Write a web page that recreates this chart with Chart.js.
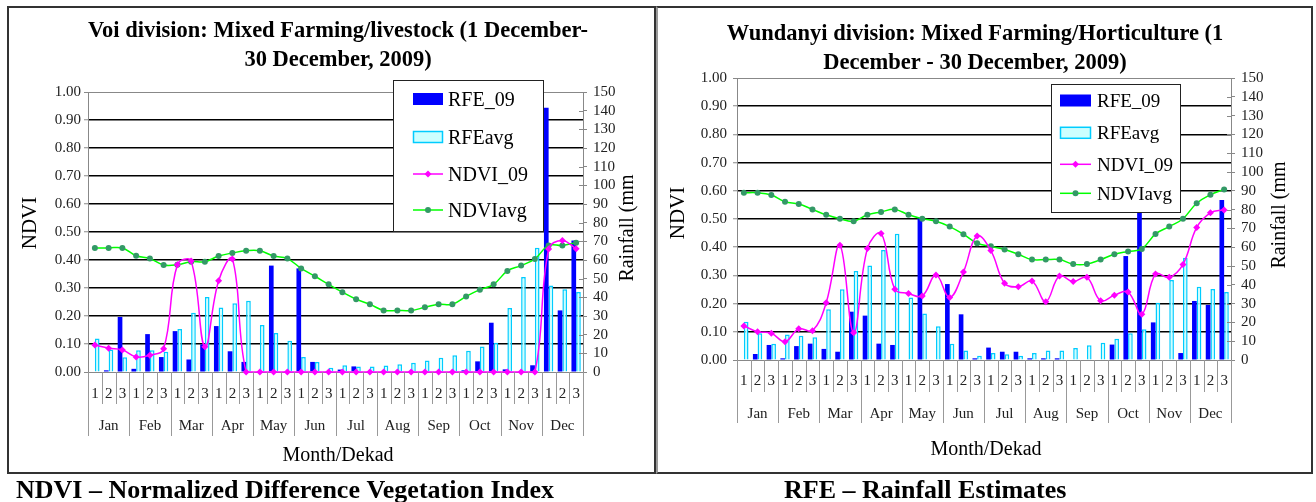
<!DOCTYPE html>
<html>
<head>
<meta charset="utf-8">
<script src="https://cdn.jsdelivr.net/npm/chart.js@4.4.1/dist/chart.umd.min.js"></script>
<style>
  html, body { margin: 0; padding: 0; background: #fff; }
  #page { position: relative; width: 1316px; height: 502px; overflow: hidden; }
  canvas { position: absolute; left: 0; top: 0; }
  .box { position: absolute; border: 2px solid #333; box-sizing: border-box; }
</style>
</head>
<body>
<div id="page">
  <div class="box" style="left:7px;top:6px;width:649px;height:468px"></div>
  <div class="box" style="left:656px;top:6px;width:657px;height:468px;border-left-color:#999"></div>
  <canvas id="voi" width="1316" height="502"></canvas>
  <canvas id="wundanyi" width="1316" height="502"></canvas>
</div>
<script>
const months = ['Jan', 'Feb', 'Mar', 'Apr', 'May', 'Jun', 'Jul', 'Aug', 'Sep', 'Oct', 'Nov', 'Dec'];
const dekads = ['1', '2', '3'];
const labels = months.flatMap(m => dekads.map(d => m + ' ' + d));

// Voi division (rainfall in mm, NDVI 0-1)
const voiRfe09 = [0, 0.9, 29.5, 1.7, 20.3, 8.0, 21.9, 6.7, 14.8, 24.6, 11.1, 5.4,
  0, 57.0, 0, 55.5, 5.4, 0, 1.3, 3.0, 0, 0, 0, 0,
  0, 0, 0, 0.9, 5.7, 26.4, 1.4, 0, 3.6, 141.5, 33.0, 70.5];
const voiRfeAvg = [17.9, 12.0, 7.9, 11.7, 11.7, 10.8, 23.1, 31.8, 40.2, 34.6, 36.8, 38.2,
  25.2, 20.9, 16.8, 8.0, 5.4, 2.3, 3.6, 3.0, 3.0, 3.5, 4.2, 5.0,
  6.2, 7.6, 9.0, 11.4, 13.6, 15.7, 34.3, 50.9, 66.6, 46.4, 44.3, 42.9];
const voiNdvi09 = [0.096, 0.085, 0.079, 0.054, 0.060, 0.083, 0.383, 0.396, 0.090, 0.326, 0.404, 0,
  0, 0, 0, 0, 0, 0, 0, 0, 0, 0, 0, 0,
  0, 0, 0, 0, 0, 0, 0, 0, 0, 0.439, 0.470, 0.440];
const voiNdviAvg = [0.443, 0.443, 0.443, 0.415, 0.405, 0.382, 0.383, 0.394, 0.394, 0.414, 0.425, 0.433,
  0.433, 0.414, 0.405, 0.370, 0.342, 0.313, 0.285, 0.260, 0.242, 0.220, 0.220, 0.220,
  0.231, 0.242, 0.242, 0.270, 0.294, 0.313, 0.361, 0.380, 0.404, 0.452, 0.452, 0.462];

// Wundanyi division
const wunRfe09 = [0, 3.2, 8.0, 0.9, 7.4, 8.7, 5.9, 4.4, 25.7, 23.6, 8.7, 8.0,
  0, 75.3, 0, 40.4, 24.3, 0.9, 6.6, 4.4, 4.4, 0.9, 0.9, 0.9,
  0, 0, 0, 8.2, 55.3, 82.0, 20.0, 0, 3.7, 31.4, 29.3, 85.1];
const wunRfeAvg = [20.4, 14.2, 8.7, 13.5, 12.9, 12.1, 27.0, 37.6, 47.3, 50.2, 58.5, 67.2,
  33.3, 24.8, 17.9, 8.7, 5.1, 2.3, 3.7, 3.0, 2.3, 3.7, 5.1, 5.1,
  6.4, 7.8, 9.2, 11.3, 14.2, 16.3, 30.5, 42.6, 54.4, 39.0, 37.8, 36.2];
const wunNdvi09 = [0.121, 0.100, 0.095, 0.065, 0.111, 0.104, 0.203, 0.407, 0.097, 0.395, 0.449, 0.251,
  0.236, 0.227, 0.301, 0.222, 0.312, 0.440, 0.388, 0.272, 0.260, 0.280, 0.207, 0.298,
  0.278, 0.293, 0.210, 0.230, 0.241, 0.162, 0.305, 0.293, 0.339, 0.470, 0.522, 0.532];
const wunNdviAvg = [0.593, 0.593, 0.585, 0.561, 0.553, 0.534, 0.515, 0.501, 0.492, 0.515, 0.525, 0.534,
  0.515, 0.501, 0.492, 0.473, 0.446, 0.414, 0.403, 0.392, 0.375, 0.356, 0.356, 0.356,
  0.340, 0.340, 0.356, 0.375, 0.385, 0.394, 0.447, 0.473, 0.501, 0.556, 0.586, 0.605];

const SERIF = '"Liberation Serif", "Times New Roman", serif';
const BLUE = '#0000ff', CYAN_FILL = '#ccffff', CYAN_LINE = '#00ccff';
const PINK = '#ff00ff', GREEN = '#00ff00', GREEN_DOT = '#339966';
const AXIS_W = 60;

function drawLegend(ctx, lg) {
  ctx.fillStyle = '#fff';
  ctx.fillRect(lg.x, lg.y, lg.w, lg.h);
  ctx.strokeStyle = '#222';
  ctx.lineWidth = 1;
  ctx.strokeRect(lg.x + 0.5, lg.y + 0.5, lg.w, lg.h);
  const names = ['RFE_09', 'RFEavg', 'NDVI_09', 'NDVIavg'];
  const sx = lg.symX, sw = lg.symW;
  lg.rows.forEach((ry, k) => {
    if (k === 0) {
      ctx.fillStyle = BLUE;
      ctx.fillRect(sx, ry - 6, sw, 12);
    } else if (k === 1) {
      ctx.fillStyle = CYAN_FILL;
      ctx.fillRect(sx, ry - 6, sw, 12);
      ctx.strokeStyle = CYAN_LINE;
      ctx.lineWidth = 1.5;
      ctx.strokeRect(sx + 0.5, ry - 5.5, sw - 1, 11);
    } else {
      ctx.strokeStyle = k === 2 ? PINK : GREEN;
      ctx.lineWidth = 1.5;
      ctx.beginPath();
      ctx.moveTo(sx, ry);
      ctx.lineTo(sx + sw, ry);
      ctx.stroke();
      ctx.fillStyle = k === 2 ? PINK : GREEN_DOT;
      ctx.beginPath();
      if (k === 2) {
        const cx = sx + sw / 2;
        ctx.moveTo(cx, ry - 3.5); ctx.lineTo(cx + 3.5, ry); ctx.lineTo(cx, ry + 3.5); ctx.lineTo(cx - 3.5, ry);
        ctx.closePath();
      } else {
        ctx.arc(sx + sw / 2, ry, 3, 0, Math.PI * 2);
      }
      ctx.fill();
    }
    ctx.fillStyle = '#000';
    ctx.font = lg.font + 'px ' + SERIF;
    ctx.textAlign = 'left';
    ctx.textBaseline = 'alphabetic';
    ctx.fillText(names[k], lg.textX, ry + 6.5);
  });
}

function decor(g) {
  return {
    id: 'decor',
    afterDatasetsDraw(chart) {
      const ctx = chart.ctx, a = chart.chartArea;
      const xs = chart.scales.x, y1 = chart.scales.y1;
      ctx.save();

      // right axis ticks cross the axis line
      ctx.strokeStyle = '#888';
      ctx.lineWidth = 1;
      y1.ticks.forEach(t => {
        const py = Math.round(y1.getPixelForValue(t.value)) + 0.5;
        ctx.beginPath();
        ctx.moveTo(a.right - 4, py);
        ctx.lineTo(a.right, py);
        ctx.stroke();
      });

      // two-level category axis: dekads and months
      const w = xs.getPixelForValue(1) - xs.getPixelForValue(0);
      ctx.strokeStyle = '#999';
      for (let i = 0; i <= labels.length; i++) {
        const px = Math.round(xs.getPixelForValue(0) - w / 2 + i * w) + 0.5;
        ctx.beginPath();
        ctx.moveTo(px, a.bottom);
        ctx.lineTo(px, i % 3 === 0 ? g.monthSep : g.dekadSep);
        ctx.stroke();
      }
      ctx.fillStyle = '#222';
      ctx.textAlign = 'center';
      ctx.textBaseline = 'alphabetic';
      ctx.font = '15px ' + SERIF;
      labels.forEach((l, i) => ctx.fillText(dekads[i % 3], xs.getPixelForValue(i), g.dekadBase));
      months.forEach((m, j) => ctx.fillText(m, xs.getPixelForValue(j * 3 + 1), g.monthBase));

      ctx.fillStyle = '#000';
      ctx.font = '20px ' + SERIF;
      ctx.fillText('Month/Dekad', g.xTitleX, g.xTitleBase);

      // axis titles
      ctx.save();
      ctx.translate(g.yTitle[0], g.yTitle[1]);
      ctx.rotate(-Math.PI / 2);
      ctx.font = '21px ' + SERIF;
      ctx.textBaseline = 'middle';
      ctx.fillText('NDVI', 0, 0);
      ctx.restore();
      ctx.save();
      ctx.translate(g.y1Title[0], g.y1Title[1]);
      ctx.rotate(-Math.PI / 2);
      ctx.font = '20px ' + SERIF;
      ctx.textBaseline = 'middle';
      ctx.fillText('Rainfall (mm', 0, 0);
      ctx.restore();

      // chart title
      ctx.font = 'bold 22.5px ' + SERIF;
      ctx.textBaseline = 'alphabetic';
      g.title.forEach((t, k) => ctx.fillText(t, g.titleX, g.titleBase[k]));

      drawLegend(ctx, g.legend);

      if (g.captions) {
        ctx.font = 'bold 26px ' + SERIF;
        ctx.textAlign = 'left';
        g.captions.forEach(c => ctx.fillText(c[0], c[1], c[2]));
      }
      ctx.restore();
    }
  };
}

function makeChart(id, g, rfe09, rfeAvg, ndvi09, ndviAvg) {
  const tickFont = { family: SERIF, size: 15 };
  return new Chart(document.getElementById(id), {
    type: 'bar',
    data: {
      labels: labels,
      datasets: [
        { type: 'line', label: 'NDVI_09', data: ndvi09, yAxisID: 'y', order: 1,
          borderColor: PINK, backgroundColor: PINK, borderWidth: 1.5,
          pointStyle: 'rectRot', pointRadius: 3.5, pointBorderWidth: 0,
          tension: 0.4, clip: false },
        { type: 'line', label: 'NDVIavg', data: ndviAvg, yAxisID: 'y', order: 2,
          borderColor: GREEN, backgroundColor: GREEN_DOT, borderWidth: 1.5,
          pointBackgroundColor: GREEN_DOT, pointBorderColor: GREEN_DOT,
          pointRadius: 3, pointBorderWidth: 0, tension: 0.4, clip: false },
        { label: 'RFE_09', data: rfe09, yAxisID: 'y1', order: 3,
          backgroundColor: BLUE, borderWidth: 0 },
        { label: 'RFEavg', data: rfeAvg, yAxisID: 'y1', order: 3,
          backgroundColor: CYAN_FILL, borderColor: CYAN_LINE, borderWidth: 1.5 }
      ]
    },
    options: {
      responsive: false,
      animation: false,
      devicePixelRatio: 1,
      events: [],
      layout: { padding: { left: g.left - AXIS_W, right: 1316 - g.right - AXIS_W, top: g.top, bottom: 502 - g.bottom } },
      datasets: { bar: { categoryPercentage: 0.68, barPercentage: 1 } },
      plugins: { legend: { display: false }, tooltip: { enabled: false } },
      scales: {
        x: { display: false, offset: true },
        y: {
          position: 'left', min: 0, max: 1,
          ticks: { stepSize: 0.1, autoSkip: false, callback: v => v.toFixed(2), font: tickFont, color: '#222', padding: g.tickPad },
          grid: {
            color: c => (c.tick.value < 0.001 || c.tick.value > 0.999) ? '#888' : '#000',
            lineWidth: c => (c.tick.value < 0.001 || c.tick.value > 0.999) ? 1 : 1.5,
            tickColor: '#888', tickLength: 4, tickWidth: 1
          },
          border: { color: '#888', width: 1 },
          afterFit: s => { s.width = AXIS_W; }
        },
        y1: {
          position: 'right', min: 0, max: 150,
          ticks: { stepSize: 10, autoSkip: false, font: tickFont, color: '#222', padding: 6 },
          grid: { drawOnChartArea: false, tickColor: '#888', tickLength: 4, tickWidth: 1 },
          border: { color: '#888', width: 1 },
          afterFit: s => { s.width = AXIS_W; }
        }
      }
    },
    plugins: [decor(g)]
  });
}

makeChart('voi', {
  left: 88, right: 583, top: 92, bottom: 372, tickPad: 3,
  title: ['Voi division: Mixed Farming/livestock (1 December-', '30 December, 2009)'],
  titleX: 338, titleBase: [36.5, 65.5],
  yTitle: [30, 223], y1Title: [628, 228],
  dekadBase: 398, monthBase: 430, xTitleX: 338, xTitleBase: 461,
  dekadSep: 404, monthSep: 436,
  legend: { x: 393, y: 80, w: 150, h: 151, symX: 413, symW: 30, textX: 448, font: 20, rows: [99, 137, 174, 210] },
  captions: [['NDVI \u2013 Normalized Difference Vegetation Index', 16, 498], ['RFE \u2013 Rainfall Estimates', 784, 498]]
}, voiRfe09, voiRfeAvg, voiNdvi09, voiNdviAvg);

makeChart('wundanyi', {
  left: 737, right: 1231, top: 78, bottom: 360, tickPad: 6,
  title: ['Wundanyi division: Mixed Farming/Horticulture (1', 'December - 30 December, 2009)'],
  titleX: 975, titleBase: [39.5, 68.5],
  yTitle: [678, 213], y1Title: [1280, 215],
  dekadBase: 385, monthBase: 417.5, xTitleX: 986, xTitleBase: 455,
  dekadSep: 392, monthSep: 423,
  legend: { x: 1051, y: 84, w: 129, h: 128, symX: 1060, symW: 31, textX: 1097, font: 19, rows: [100.5, 132.8, 164.3, 193.3] }
}, wunRfe09, wunRfeAvg, wunNdvi09, wunNdviAvg);
</script>
</body>
</html>
